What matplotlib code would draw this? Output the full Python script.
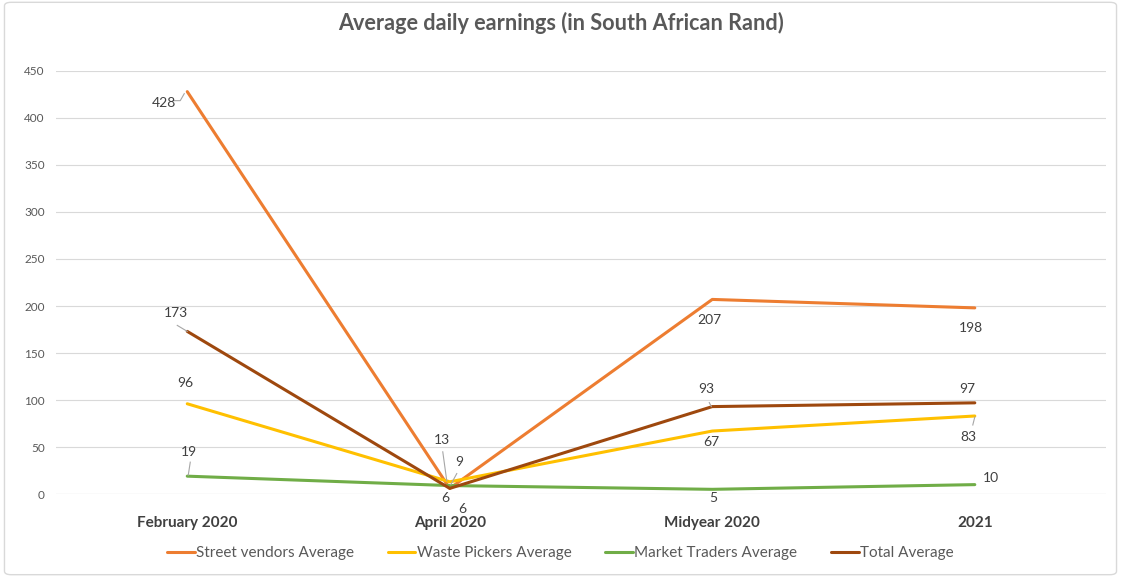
import matplotlib
matplotlib.use("Agg")
import matplotlib.pyplot as plt
from matplotlib.patches import FancyBboxPatch

plt.rcParams['font.family'] = ['Lato', 'DejaVu Sans']

categories = ["February 2020", "April 2020", "Midyear 2020", "2021"]
street_vendors = [428, 6, 207, 198]
waste_pickers = [96, 13, 67, 83]
market_traders = [19, 9, 5, 10]
total_average = [173, 6, 93, 97]
series_names = ["Street vendors Average", "Waste Pickers Average",
                "Market Traders Average", "Total Average"]
y_ticks = [0, 50, 100, 150, 200, 250, 300, 350, 400, 450]

colors = ["#ED7D31", "#FFC000", "#70AD47", "#9E480E"]
series = [street_vendors, waste_pickers, market_traders, total_average]

# data-label offsets in pixels (x right, y up) for each series/point
offsets = [
    [(-23, -11), (-4, -10), (-3, -21), (-4, -20)],
    [(-2, 21), (-8, 42), (-1, -11), (-6, -21)],
    [(2, 24), (9, 24), (1, -9), (16, 7)],
    [(-11, 18), (13, -21), (-6, 18), (-8, 14)],
]

# leader lines in pixel offsets from the data point
leaders = [
    (0, 0, [(-13, -9), (-7, -9), (-3, -2)]),
    (3, 0, [(-10, 6), (0, 0)]),
    (2, 0, [(3, 14), (1, 1)]),
    (1, 1, [(-7, 30), (-3, 1)]),
    (2, 1, [(7, 12), (1, 1)]),
    (3, 1, [(0, -12), (0, -20), (8, -20)]),
    (3, 2, [(-3, 4), (-1, 0)]),
    (1, 3, [(-2, -9), (0, -1)]),
]

fig = plt.figure(figsize=(11.21, 5.77), dpi=100)
ax = fig.add_axes([0.04996, 0.1438, 0.9367, 0.7332])

x = list(range(len(categories)))
for vals, name, c in zip(series, series_names, colors):
    ax.plot(x, vals, color=c, lw=2.2, label=name, solid_capstyle='round', zorder=3)

for s, vals in enumerate(series):
    for i, v in enumerate(vals):
        dx, dy = offsets[s][i]
        ax.annotate(str(v), (i, v), xytext=(dx, dy), textcoords='offset pixels',
                    ha='center', va='center', fontsize=10, color='#404040', zorder=5)

ax.set_xlim(-0.5, 3.5)
ax.set_ylim(0, 450)


def draw_leader(i, v, pts):
    trans = ax.transData
    px, py = trans.transform((i, v))
    data = trans.inverted().transform([(px + ddx, py + ddy) for ddx, ddy in pts])
    ax.plot(data[:, 0], data[:, 1], color='#A6A6A6', lw=0.8, zorder=4)


fig.canvas.draw()
for s, i, pts in leaders:
    draw_leader(i, series[s][i], pts)

ax.set_xticks(x)
ax.set_xticklabels(categories, fontsize=11, fontweight='bold', color='#404040')
ax.set_yticks(y_ticks)
ax.set_yticklabels([str(t) for t in y_ticks], fontsize=8.5, color='#595959')
ax.tick_params(axis='both', length=0)
ax.tick_params(axis='y', pad=8)
ax.tick_params(axis='x', pad=16)
ax.grid(axis='y', color='#D9D9D9', lw=0.8, zorder=0)
for sp in ax.spines.values():
    sp.set_visible(False)
ax.axhline(0, color='#D9D9D9', lw=0.8, zorder=1)

fig.text(0.5, 0.960, "Average daily earnings (in South African Rand)", ha='center',
         va='center', fontsize=15.6, fontweight='bold', color='#595959')

fig.legend(loc='center', bbox_to_anchor=(0.5, 0.041), ncol=4, frameon=False,
           fontsize=11, handlelength=1.8, handletextpad=0.1, columnspacing=2.2,
           labelcolor='#595959')

border = FancyBboxPatch((0.004, 0.004), 0.992, 0.992,
                        boxstyle="round,pad=0,rounding_size=0.006",
                        transform=fig.transFigure, fill=False, ec='#D9D9D9', lw=1.0)
fig.add_artist(border)

fig.savefig("out.png", dpi=100)
